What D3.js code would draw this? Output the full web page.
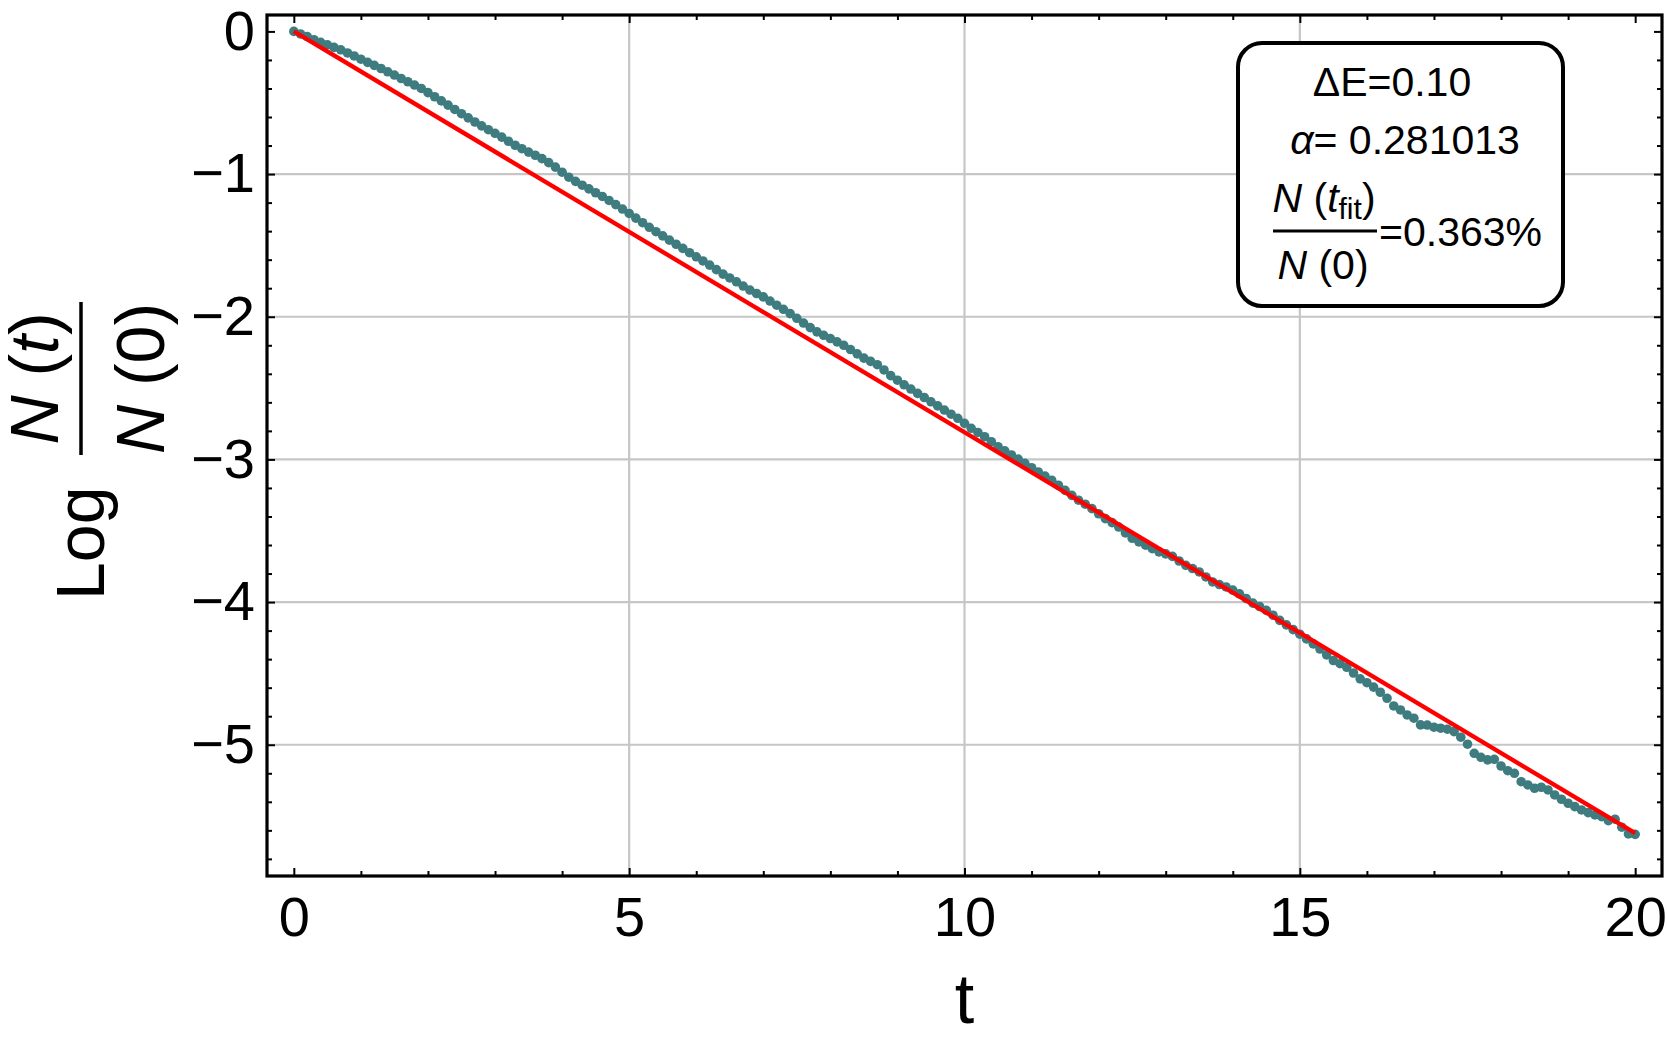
<!DOCTYPE html>
<html>
<head>
<meta charset="utf-8">
<script src="https://cdn.jsdelivr.net/npm/d3@7"></script>
<style>
body { margin: 0; background: #fff; }
text { font-family: "Liberation Sans", Arial, sans-serif; fill: #000; }
</style>
</head>
<body>
<div id="chart"></div>
<script>

// sampled every 0.1 in t, from t = 0 to t = 20
var tStep = 0.1;
var logRatio = [
    0.000, -0.018, -0.036, -0.058, -0.077, -0.094, -0.112, -0.129, -0.151, -0.172,
    -0.195, -0.217, -0.238, -0.260, -0.283, -0.306, -0.330, -0.353, -0.376, -0.400,
    -0.429, -0.458, -0.487, -0.517, -0.547, -0.577, -0.606, -0.635, -0.662, -0.689,
    -0.714, -0.741, -0.770, -0.798, -0.822, -0.846, -0.868, -0.892, -0.920, -0.951,
    -0.987, -1.022, -1.051, -1.078, -1.104, -1.131, -1.157, -1.185, -1.214, -1.245,
    -1.276, -1.309, -1.341, -1.373, -1.404, -1.433, -1.463, -1.492, -1.521, -1.551,
    -1.580, -1.609, -1.638, -1.670, -1.701, -1.728, -1.755, -1.785, -1.813, -1.837,
    -1.861, -1.890, -1.919, -1.948, -1.978, -2.011, -2.044, -2.076, -2.106, -2.130,
    -2.153, -2.176, -2.200, -2.230, -2.260, -2.290, -2.313, -2.336, -2.373, -2.413,
    -2.445, -2.477, -2.507, -2.537, -2.566, -2.596, -2.625, -2.654, -2.683, -2.712,
    -2.747, -2.782, -2.811, -2.841, -2.876, -2.911, -2.940, -2.969, -2.998, -3.028,
    -3.058, -3.088, -3.117, -3.146, -3.181, -3.217, -3.252, -3.286, -3.314, -3.345,
    -3.381, -3.415, -3.443, -3.474, -3.515, -3.553, -3.578, -3.601, -3.626, -3.648,
    -3.662, -3.680, -3.712, -3.742, -3.765, -3.789, -3.824, -3.859, -3.877, -3.894,
    -3.916, -3.942, -3.975, -4.007, -4.031, -4.058, -4.092, -4.128, -4.160, -4.193,
    -4.225, -4.258, -4.293, -4.329, -4.370, -4.410, -4.432, -4.457, -4.497, -4.538,
    -4.565, -4.596, -4.632, -4.674, -4.728, -4.756, -4.791, -4.814, -4.861, -4.862,
    -4.877, -4.884, -4.891, -4.908, -4.947, -4.996, -5.060, -5.088, -5.106, -5.102,
    -5.149, -5.182, -5.200, -5.259, -5.282, -5.305, -5.298, -5.317, -5.352, -5.382,
    -5.410, -5.434, -5.457, -5.476, -5.492, -5.504, -5.532, -5.522, -5.578, -5.625,
    -5.628
];

// fitted line, slope = -alpha
var alpha = 0.281013;
var fitT = [0, 20];
var fitY = [0, -5.620];

var xTicks = [0, 5, 10, 15, 20];
var yTicks = [0, -1, -2, -3, -4, -5];
var xGrid = [5, 10, 15];
var yGrid = [-1, -2, -3, -4, -5];

var legendDeltaE = "0.10";
var legendAlpha = "0.281013";
var legendPct = "0.363%";

var svgW = 1667;
var svgH = 1040;
var margin = { left: 267, right: 5, top: 15, bottom: 164 };
var plotR = svgW - margin.right;
var plotB = svgH - margin.bottom;

var svg = d3.select("#chart")
    .append("svg")
    .attr("width", svgW)
    .attr("height", svgH)
    .style("display", "block");

svg.append("rect").attr("width", svgW).attr("height", svgH).attr("fill", "white");

var xScale = d3.scaleLinear().domain([-0.4, 20.4]).range([margin.left, plotR]);
var yScale = d3.scaleLinear().domain([-5.92, 0.115]).range([plotB, margin.top]);

// grid
svg.append("g").selectAll("line")
    .data(xGrid)
    .enter()
    .append("line")
    .attr("x1", d => xScale(d)).attr("x2", d => xScale(d))
    .attr("y1", margin.top).attr("y2", plotB)
    .attr("stroke", "#c6c6c6")
    .attr("stroke-width", 2.2);

svg.append("g").selectAll("line")
    .data(yGrid)
    .enter()
    .append("line")
    .attr("x1", margin.left).attr("x2", plotR)
    .attr("y1", d => yScale(d)).attr("y2", d => yScale(d))
    .attr("stroke", "#c6c6c6")
    .attr("stroke-width", 2.2);

// ticks
var xMinor = d3.range(0, 21).filter(d => d % 5 !== 0);
var yMinor = d3.range(-29, 1).map(d => d / 5).filter(d => Math.abs(d - Math.round(d)) > 0.01);

function styleAxis(g) {
    g.select(".domain").remove();
    g.selectAll(".tick line").attr("stroke-width", 2);
    g.attr("font-family", "Liberation Sans, Arial, sans-serif").attr("font-size", 56);
}

svg.append("g")
    .attr("transform", `translate(0, ${plotB})`)
    .call(d3.axisBottom(xScale).tickValues(xTicks).tickSize(-8).tickPadding(20).tickFormat(d3.format("d")))
    .call(styleAxis);
svg.append("g")
    .attr("transform", `translate(0, ${plotB})`)
    .call(d3.axisBottom(xScale).tickValues(xMinor).tickSize(-5).tickFormat(""))
    .call(styleAxis);
svg.append("g")
    .attr("transform", `translate(0, ${margin.top})`)
    .call(d3.axisTop(xScale).tickValues(xTicks).tickSize(-8).tickFormat(""))
    .call(styleAxis);
svg.append("g")
    .attr("transform", `translate(0, ${margin.top})`)
    .call(d3.axisTop(xScale).tickValues(xMinor).tickSize(-5).tickFormat(""))
    .call(styleAxis);

svg.append("g")
    .attr("transform", `translate(${margin.left}, 0)`)
    .call(d3.axisLeft(yScale).tickValues(yTicks).tickSize(-8).tickPadding(12).tickFormat(d3.format("d")))
    .call(styleAxis);
svg.append("g")
    .attr("transform", `translate(${margin.left}, 0)`)
    .call(d3.axisLeft(yScale).tickValues(yMinor).tickSize(-5).tickFormat(""))
    .call(styleAxis);
svg.append("g")
    .attr("transform", `translate(${plotR}, 0)`)
    .call(d3.axisRight(yScale).tickValues(yTicks).tickSize(-8).tickFormat(""))
    .call(styleAxis);
svg.append("g")
    .attr("transform", `translate(${plotR}, 0)`)
    .call(d3.axisRight(yScale).tickValues(yMinor).tickSize(-5).tickFormat(""))
    .call(styleAxis);

// data points
svg.append("g").selectAll("circle")
    .data(logRatio)
    .enter()
    .append("circle")
    .attr("cx", (d, i) => xScale(i * tStep))
    .attr("cy", d => yScale(d))
    .attr("r", 4.8)
    .attr("fill", "#3f7c80");

// fit line
var fitLine = d3.line()
    .x(d => xScale(d[0]))
    .y(d => yScale(d[1]));

svg.append("path")
    .datum(fitT.map((t, i) => [t, fitY[i]]))
    .attr("d", fitLine)
    .attr("fill", "none")
    .attr("stroke", "#ff0000")
    .attr("stroke-width", 4.3);

// frame
svg.append("rect")
    .attr("x", margin.left)
    .attr("y", margin.top)
    .attr("width", plotR - margin.left)
    .attr("height", plotB - margin.top)
    .attr("fill", "none")
    .attr("stroke", "#000")
    .attr("stroke-width", 3.2);

// axis labels
svg.append("text")
    .attr("x", (margin.left + plotR) / 2)
    .attr("y", 1023)
    .attr("text-anchor", "middle")
    .attr("font-size", 70)
    .text("t");

var yLab = svg.append("g")
    .attr("transform", "rotate(-90)")
    .attr("font-size", 68);

yLab.append("text")
    .attr("x", -600)
    .attr("y", 104)
    .text("Log");

yLab.append("line")
    .attr("x1", -455).attr("x2", -302)
    .attr("y1", 81).attr("y2", 81)
    .attr("stroke", "#000")
    .attr("stroke-width", 3.5);

var num = yLab.append("text")
    .attr("x", -378.5)
    .attr("y", 58)
    .attr("text-anchor", "middle");
num.append("tspan").attr("font-style", "italic").text("N");
num.append("tspan").text(" (");
num.append("tspan").attr("font-style", "italic").text("t");
num.append("tspan").text(")");

var den = yLab.append("text")
    .attr("x", -378.5)
    .attr("y", 164)
    .attr("text-anchor", "middle");
den.append("tspan").attr("font-style", "italic").text("N");
den.append("tspan").text(" (0)");

// legend box
var legend = svg.append("g").attr("font-size", 41);

legend.append("rect")
    .attr("x", 1238)
    .attr("y", 43)
    .attr("width", 325)
    .attr("height", 263)
    .attr("rx", 24)
    .attr("fill", "white")
    .attr("stroke", "#000")
    .attr("stroke-width", 4);

legend.append("text")
    .attr("x", 1392)
    .attr("y", 96)
    .attr("text-anchor", "middle")
    .text("ΔE=" + legendDeltaE);

var aText = legend.append("text")
    .attr("x", 1405)
    .attr("y", 154)
    .attr("text-anchor", "middle");
aText.append("tspan").attr("font-style", "italic").text("α");
aText.append("tspan").text("= " + legendAlpha);

var lNum = legend.append("text")
    .attr("x", 1324)
    .attr("y", 212)
    .attr("text-anchor", "middle");
lNum.append("tspan").attr("font-style", "italic").text("N");
lNum.append("tspan").text(" (");
lNum.append("tspan").attr("font-style", "italic").text("t");
lNum.append("tspan").attr("font-size", 30).attr("dy", 7).text("fit");
lNum.append("tspan").attr("dy", -7).text(")");

legend.append("line")
    .attr("x1", 1273).attr("x2", 1377)
    .attr("y1", 231).attr("y2", 231)
    .attr("stroke", "#000")
    .attr("stroke-width", 3);

var lDen = legend.append("text")
    .attr("x", 1323)
    .attr("y", 279)
    .attr("text-anchor", "middle");
lDen.append("tspan").attr("font-style", "italic").text("N");
lDen.append("tspan").text(" (0)");

legend.append("text")
    .attr("x", 1379)
    .attr("y", 246)
    .text("=" + legendPct);

</script>
</body>
</html>
